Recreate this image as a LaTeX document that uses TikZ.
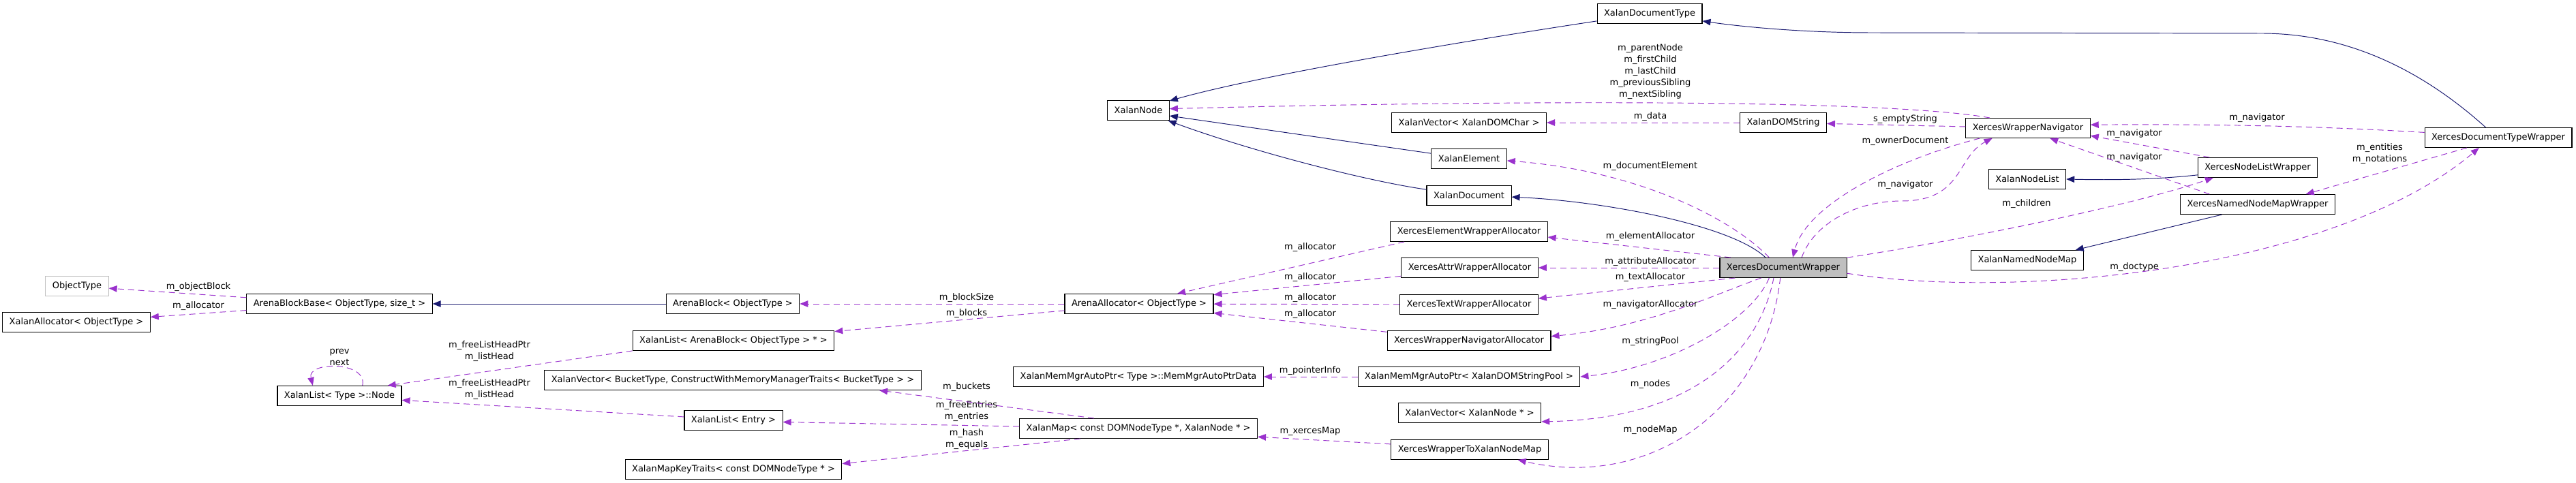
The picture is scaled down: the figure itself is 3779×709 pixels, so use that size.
\documentclass[tikz,border=0pt]{standalone}
\usepackage{fontspec}
\setmainfont{DejaVu Sans}
\usetikzlibrary{arrows.meta}
\definecolor{usecol}{HTML}{9A32CD}
\definecolor{inhcol}{HTML}{191970}
\definecolor{greybox}{HTML}{BFBFBF}
\newcommand{\dxfont}{\fontsize{7.4}{9.7}\selectfont}
\tikzset{
    >={Triangle[length=0.24cm,width=0.19cm]}, % Filled heads as in doxygen
    cls/.style={draw, line width=0.6pt, fill=white, minimum height=0.58cm, inner xsep=0.2cm, inner ysep=0pt, font=\dxfont}, % Class boxes
    undoc/.style={cls, draw=greybox}, % Class without docs
    self/.style={cls, fill=greybox}, % The class itself
    use/.style={->, usecol, dash pattern=on 0.18cm off 0.12cm, line width=0.55pt}, % Member edges
    inh/.style={->, inhcol, line width=0.55pt}, % Inheritance edges
    lbl/.style={font=\dxfont, align=center, inner sep=0pt}, % Edge labels
}

\begin{document}
\begin{tikzpicture}[x=0.02cm, y=-0.02cm]
  \useasboundingbox (0,0) rectangle (3779,709);

  \node[undoc] (objType) at (113,420) {ObjectType};
  \node[cls] (xalanAlloc) at (112,473) {XalanAllocator< ObjectType >};
  \node[cls] (abBase) at (498,446) {ArenaBlockBase< ObjectType, size\_t >};
  \node[cls] (listNode) at (498,581) {XalanList< Type >::Node};

  \node[cls] (arenaBlock) at (1075,446) {ArenaBlock< ObjectType >};
  \node[cls] (listArena) at (1076,500) {XalanList< ArenaBlock< ObjectType > * >};
  \node[cls] (vecBucket) at (1075,558) {XalanVector< BucketType, ConstructWithMemoryManagerTraits< BucketType > >};
  \node[cls] (listEntry) at (1076,617) {XalanList< Entry >};
  \node[cls] (keyTraits) at (1076,689) {XalanMapKeyTraits< const DOMNodeType * >};

  \node[cls] (xalanNode) at (1670,162) {XalanNode};
  \node[cls] (arenaAlloc) at (1671,446) {ArenaAllocator< ObjectType >};
  \node[cls] (ptrData) at (1670,553) {XalanMemMgrAutoPtr< Type >::MemMgrAutoPtrData};
  \node[cls] (xalanMap) at (1670,629) {XalanMap< const DOMNodeType *, XalanNode * >};

  \node[cls] (docType) at (2420,20) {XalanDocumentType};
  \node[cls] (vecChar) at (2155,180) {XalanVector< XalanDOMChar >};
  \node[cls] (element) at (2155,233) {XalanElement};
  \node[cls] (document) at (2155,287) {XalanDocument};
  \node[cls] (elemAlloc) at (2155,340) {XercesElementWrapperAllocator};
  \node[cls] (attrAlloc) at (2156,393) {XercesAttrWrapperAllocator};
  \node[cls] (textAlloc) at (2155,447) {XercesTextWrapperAllocator};
  \node[cls] (navAlloc) at (2155,500) {XercesWrapperNavigatorAllocator};
  \node[cls] (poolPtr) at (2155,553) {XalanMemMgrAutoPtr< XalanDOMStringPool >};
  \node[cls] (vecNode) at (2156,606) {XalanVector< XalanNode * >};
  \node[cls] (nodeMap) at (2156,660) {XercesWrapperToXalanNodeMap};

  \node[cls] (domString) at (2616,180) {XalanDOMString};
  \node[self] (docWrap) at (2616,393) {XercesDocumentWrapper};

  \node[cls] (navigator) at (2975,188) {XercesWrapperNavigator};
  \node[cls] (nodeList) at (2974,263) {XalanNodeList};
  \node[cls] (namedMap) at (2974,382) {XalanNamedNodeMap};
  \node[cls] (nodeListW) at (3312,246) {XercesNodeListWrapper};
  \node[cls] (namedMapW) at (3312,300) {XercesNamedNodeMapWrapper};
  \node[cls] (docTypeW) at (3665,202) {XercesDocumentTypeWrapper};

  % base classes
  \draw[inh] (arenaBlock) -- (abBase);
  \draw[inh] (docType.188) .. controls (2150,60) and (1850,110) .. (xalanNode.17);
  \draw[inh] (element.172) -- (xalanNode.350);
  \draw[inh] (document.172) .. controls (2000,265) and (1830,220) .. (xalanNode.341);
  \draw[inh] (docWrap.150) .. controls (2540,330) and (2350,295) .. (document.358);
  \draw[inh] (docTypeW.141) .. controls (3550,100) and (3440,49) .. (3318,49) -- (2746,48) .. controls (2650,48) and (2560,40) .. (docType.352);
  \draw[inh] (nodeListW.187) .. controls (3150,265) and (3080,264) .. (nodeList.east);
  \draw[inh] (namedMapW.196) -- (namedMap.12);

  % arena side
  \node[lbl] (lObjBlock) at (291,421) {m\_objectBlock};
  \node[lbl] (lAllocZero) at (291,449) {m\_allocator};
  \draw[use] (abBase) -- (objType);
  \draw[use] (abBase) -- (xalanAlloc);

  \node[lbl] (lPrevNext) at (498,524) {prev\\next};
  \draw[use] (listNode.24) .. controls (540,530) and (450,530) .. (listNode.159);

  \node[lbl] (lFreeA) at (718,516) {m\_freeListHeadPtr\\m\_listHead};
  \node[lbl] (lFreeB) at (718,572) {m\_freeListHeadPtr\\m\_listHead};
  \draw[use] (listArena.south west) -- (listNode.12);
  \draw[use] (listEntry.176) -- (listNode.356);

  \node[lbl] (lBlockSize) at (1418,437) {m\_blockSize};
  \node[lbl] (lBlocks) at (1418,460) {m\_blocks};
  \draw[use] (arenaAlloc) -- (arenaBlock);
  \draw[use] (arenaAlloc) -- (listArena);

  \node[lbl] (lBuckets) at (1418,568) {m\_buckets};
  \node[lbl] (lEntries) at (1418,604) {m\_freeEntries\\m\_entries};
  \node[lbl] (lHash) at (1418,645) {m\_hash\\m\_equals};
  \draw[use] (xalanMap.167) -- (vecBucket.356);
  \draw[use] (xalanMap.179) -- (listEntry.358);
  \draw[use] (xalanMap.190) -- (keyTraits.3);

  \node[lbl] (lAllocA) at (1922,363) {m\_allocator};
  \node[lbl] (lAllocB) at (1922,407) {m\_allocator};
  \node[lbl] (lAllocC) at (1922,437) {m\_allocator};
  \node[lbl] (lAllocD) at (1922,461) {m\_allocator};
  \draw[use] (elemAlloc.189) -- (arenaAlloc.15);
  \draw[use] (attrAlloc.187) -- (arenaAlloc.7);
  \draw[use] (textAlloc) -- (arenaAlloc);
  \draw[use] (navAlloc.174) -- (arenaAlloc.353);

  \node[lbl] (lPtrInfo) at (1922,544) {m\_pointerInfo};
  \node[lbl] (lXMap) at (1922,633) {m\_xercesMap};
  \draw[use] (poolPtr) -- (ptrData);
  \draw[use] (nodeMap.176) -- (xalanMap.356);

  % document wrapper side
  \node[lbl] (lFamily) at (2421,105) {m\_parentNode\\m\_firstChild\\m\_lastChild\\m\_previousSibling\\m\_nextSibling};
  \node[lbl] (lData) at (2421,171) {m\_data};
  \draw[use] (navigator.165) .. controls (2780,148) and (2300,145) .. (xalanNode.3);
  \draw[use] (domString) -- (vecChar);

  \node[lbl] (lDocElem) at (2421,244) {m\_documentElement};
  \node[lbl] (lElemAlloc) at (2421,347) {m\_elementAllocator};
  \node[lbl] (lAttrAlloc) at (2421,384) {m\_attributeAllocator};
  \node[lbl] (lTextAlloc) at (2421,407) {m\_textAllocator};
  \node[lbl] (lNavAlloc) at (2421,447) {m\_navigatorAllocator};
  \node[lbl] (lPool) at (2421,501) {m\_stringPool};
  \node[lbl] (lNodes) at (2421,564) {m\_nodes};
  \node[lbl] (lNodeMap) at (2421,631) {m\_nodeMap};
  \draw[use] (docWrap.144) .. controls (2540,320) and (2400,250) .. (element.357);
  \draw[use] (docWrap.169) -- (elemAlloc.356);
  \draw[use] (docWrap) -- (attrAlloc);
  \draw[use] (docWrap.192) -- (textAlloc.5);
  \draw[use] (docWrap.205) .. controls (2520,430) and (2420,480) .. (navAlloc.3);
  \draw[use] (docWrap.216) .. controls (2570,470) and (2450,540) .. (poolPtr.east);
  \draw[use] (docWrap.227) .. controls (2580,520) and (2480,615) .. (vecNode.353);
  \draw[use] (docWrap.254) .. controls (2590,600) and (2420,720) .. (nodeMap.348);

  \node[lbl] (lEmpty) at (2795,175) {s\_emptyString};
  \node[lbl] (lOwner) at (2795,207) {m\_ownerDocument};
  \node[lbl] (lNavA) at (2795,271) {m\_navigator};
  \draw[use] (navigator) -- (domString);
  \draw[use] (navigator.192) .. controls (2780,235) and (2650,300) .. (docWrap.47);
  \draw[use] (docWrap.29) .. controls (2660,330) and (2720,295) .. (2790,295) .. controls (2880,295) and (2870,230) .. (navigator.196);

  \node[lbl] (lChildren) at (2973,299) {m\_children};
  \node[lbl] (lDoctype) at (3131,392) {m\_doctype};
  \draw[use] (docWrap.9) .. controls (2830,360) and (3100,310) .. (nodeListW.193);
  \draw[use] (docWrap.355) .. controls (2950,440) and (3420,400) .. (docTypeW.208);

  \node[lbl] (lNavB) at (3311,173) {m\_navigator};
  \node[lbl] (lNavC) at (3131,196) {m\_navigator};
  \node[lbl] (lNavD) at (3131,231) {m\_navigator};
  \node[lbl] (lEntNot) at (3491,226) {m\_entities\\m\_notations};
  \draw[use] (docTypeW.176) .. controls (3400,185) and (3250,182) .. (navigator.3);
  \draw[use] (nodeListW.168) -- (navigator.353);
  \draw[use] (namedMapW.168) -- (navigator.335);
  \draw[use] (docTypeW.198) -- (namedMapW.12);
\end{tikzpicture}
\end{document}
